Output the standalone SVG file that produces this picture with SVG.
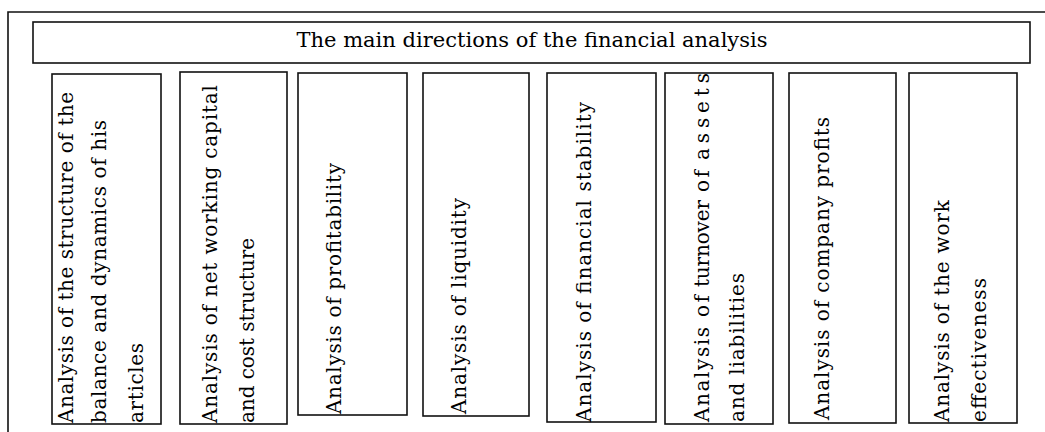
<svg xmlns="http://www.w3.org/2000/svg" width="1045" height="432" viewBox="0 0 1045 432">
<style>
.frame{fill:none;stroke:#111;stroke-width:1.6}
.box{fill:#fff;stroke:#111;stroke-width:1.6}
.t{font-family:"DejaVu Serif","Liberation Serif",serif;font-size:20px;fill:#000}
.title{font-family:"DejaVu Serif","Liberation Serif",serif;font-size:21px;fill:#000}
</style>
<rect width="1045" height="432" fill="#fff"/>
<path class="frame" d="M8,432 V12 H1045"/>
<g id="title">
<rect class="box" x="33" y="22" width="997" height="41"/>
<text class="title" x="532" y="47" text-anchor="middle" textLength="471">The main directions of the financial analysis</text>
</g>
<g id="n1">
<rect class="box" x="52" y="74" width="109" height="350"/>
<text class="t" transform="translate(73,423) rotate(-90)" textLength="331">Analysis of the structure of the</text>
<text class="t" transform="translate(106,423) rotate(-90)" textLength="303">balance and dynamics of his</text>
<text class="t" transform="translate(143,423) rotate(-90)" textLength="80">articles</text>
</g>
<g id="n2">
<rect class="box" x="180" y="72" width="107" height="352"/>
<text class="t" transform="translate(217,423) rotate(-90)" textLength="338">Analysis of net working capital</text>
<text class="t" transform="translate(254,423) rotate(-90)" textLength="185">and cost structure</text>
</g>
<g id="n3">
<rect class="box" x="298" y="73" width="109" height="342"/>
<text class="t" transform="translate(341,414) rotate(-90)" textLength="251">Analysis of profitability</text>
</g>
<g id="n4">
<rect class="box" x="423" y="73" width="106" height="343"/>
<text class="t" transform="translate(466,414) rotate(-90)" textLength="216">Analysis of liquidity</text>
</g>
<g id="n5">
<rect class="box" x="547" y="73" width="109" height="349"/>
<text class="t" transform="translate(591,422) rotate(-90)" textLength="320">Analysis of financial stability</text>
</g>
<g id="n6">
<rect class="box" x="665" y="73" width="108" height="351"/>
<text class="t" transform="translate(709,422) rotate(-90)" textLength="95">Analysis</text>
<text class="t" transform="translate(709,317) rotate(-90)" textLength="22">of</text>
<text class="t" transform="translate(709,287) rotate(-90)" textLength="87">turnover</text>
<text class="t" transform="translate(709,192) rotate(-90)" textLength="22">of</text>
<text class="t" transform="translate(709,160) rotate(-90)" textLength="87">assets</text>
<text class="t" transform="translate(744,422) rotate(-90)" textLength="149">and liabilities</text>
</g>
<g id="n7">
<rect class="box" x="789" y="73" width="107" height="350"/>
<text class="t" transform="translate(829,420) rotate(-90)" textLength="303">Analysis of company profits</text>
</g>
<g id="n8">
<rect class="box" x="909" y="73" width="108" height="350"/>
<text class="t" transform="translate(949,422) rotate(-90)" textLength="222">Analysis of the work</text>
<text class="t" transform="translate(986,422) rotate(-90)" textLength="144">effectiveness</text>
</g>
<g id="connectors"></g>
</svg>
